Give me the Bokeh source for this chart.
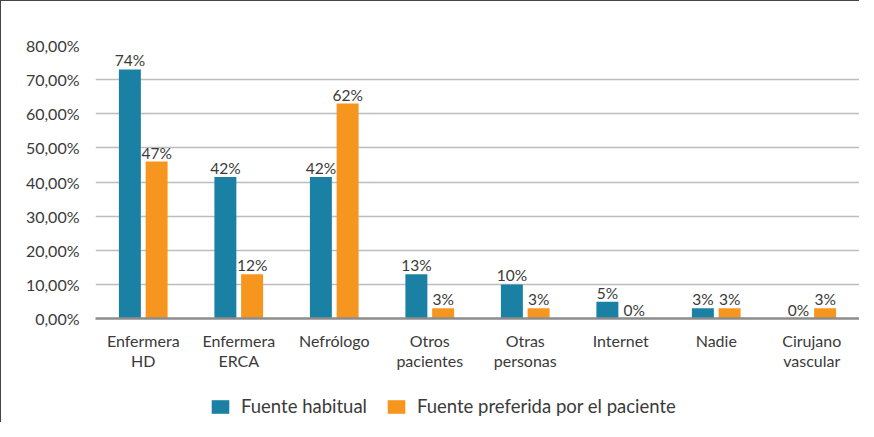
from bokeh.plotting import figure
from bokeh.layouts import column
from bokeh.models import (ColumnDataSource, FactorRange, CustomJSTickFormatter, FixedTicker,
                          Legend, LegendItem, LabelSet, CategoricalAxis)
from bokeh.core.properties import value
from bokeh.transform import dodge
from bokeh.embed import file_html
from bokeh.resources import INLINE

categories = ["Enfermera HD", "Enfermera ERCA", "Nefrólogo", "Otros pacientes",
              "Otras personas", "Internet", "Nadie", "Cirujano vascular"]
label_line1 = ["Enfermera", "Enfermera", "Nefrólogo", "Otros",
               "Otras", "Internet", "Nadie", "Cirujano"]
label_line2 = ["HD", "ERCA", " ", "pacientes", "personas", " ", " ", "vascular"]
habitual = [73, 41.5, 41.5, 13, 10, 4.9, 3, 0]
preferida = [46, 13, 63, 3, 3, 0, 3, 3]
habitual_labels = ["74%", "42%", "42%", "13%", "10%", "5%", "3%", "0%"]
preferida_labels = ["47%", "12%", "62%", "3%", "3%", "0%", "3%", "3%"]
y_ticks = [0, 10, 20, 30, 40, 50, 60, 70, 80]
series_names = ["Fuente habitual", "Fuente preferida por el paciente"]

BLUE = "#1a81a4"
ORANGE = "#f7961e"
TEXT = "#3a3a3a"
FONT = "Lato"

src = ColumnDataSource(dict(cat=categories, h=habitual, p=preferida,
                            hl=habitual_labels, pl=preferida_labels))

p = figure(frame_width=764, frame_height=273, x_range=FactorRange(*categories), y_range=(0, 80),
           output_backend="svg", toolbar_location=None, x_axis_location=None,
           min_border_left=94, min_border_right=0, min_border_top=44, min_border_bottom=0)
p.outline_line_color = None
p.background_fill_color = "white"

r1 = p.vbar(x=dodge("cat", -0.14, range=p.x_range), top="h", width=0.23, source=src,
            fill_color=BLUE, line_color=None)
r2 = p.vbar(x=dodge("cat", 0.14, range=p.x_range), top="p", width=0.23, source=src,
            fill_color=ORANGE, line_color=None)

for col, lab, off in (("h", "hl", -0.14), ("p", "pl", 0.14)):
    ls = LabelSet(x=dodge("cat", off, range=p.x_range), y=col, text=lab, source=src,
                  text_align="center", text_baseline="bottom", y_offset=0,
                  text_font=value(FONT), text_font_size="15.5px", text_color=TEXT)
    p.add_layout(ls)

p.yaxis.ticker = FixedTicker(ticks=y_ticks)
p.yaxis.formatter = CustomJSTickFormatter(code="return tick.toFixed(2).replace('.', ',') + '%';")
p.yaxis.axis_line_color = None
p.yaxis.major_tick_line_color = None
p.yaxis.minor_tick_line_color = None
p.yaxis.major_label_text_font = FONT
p.yaxis.major_label_text_font_size = "16px"
p.yaxis.major_label_text_color = TEXT
p.yaxis.major_label_standoff = 10

fmt1 = CustomJSTickFormatter(args=dict(keys=categories, names=label_line1),
                             code="const i = keys.indexOf(tick); return i >= 0 ? names[i] : tick;")
fmt2 = CustomJSTickFormatter(args=dict(keys=categories, names=label_line2),
                             code="const i = keys.indexOf(tick); return i >= 0 ? names[i] : tick;")

ax1 = CategoricalAxis(axis_line_color="#8c8c8c", axis_line_width=2.5, formatter=fmt1,
                      major_tick_line_color=None, minor_tick_line_color=None,
                      major_label_text_font=FONT, major_label_text_font_size="16px",
                      major_label_text_color=TEXT, major_label_standoff=6)
ax2 = CategoricalAxis(axis_line_color=None, formatter=fmt2,
                      major_tick_line_color=None, minor_tick_line_color=None,
                      major_label_text_font=FONT, major_label_text_font_size="16px",
                      major_label_text_color=TEXT, major_label_standoff=-8)
p.add_layout(ax1, "below")
p.add_layout(ax2, "below")

p.xgrid.grid_line_color = None
p.ygrid.grid_line_color = "#bdbdbd"
p.ygrid.grid_line_width = 1.5

# legend strip
p2 = figure(width=858, height=50, output_backend="svg", toolbar_location=None,
            x_range=(0, 1), y_range=(0, 1), min_border=0,
            x_axis_location=None, y_axis_location=None)
p2.grid.grid_line_color = None
p2.outline_line_color = None
d1 = p2.vbar(x=[5], top=[1], width=0.1, fill_color=BLUE, line_color=None)
d2 = p2.vbar(x=[5], top=[1], width=0.1, fill_color=ORANGE, line_color=None)
legend = Legend(items=[LegendItem(label=series_names[0], renderers=[d1]),
                       LegendItem(label=series_names[1], renderers=[d2])],
                orientation="horizontal", location=(114, 5),
                label_text_font=FONT, label_text_font_size="18.5px", label_text_color=TEXT,
                glyph_width=22, glyph_height=17, spacing=18, label_standoff=10,
                border_line_color=None, background_fill_alpha=0)
p2.add_layout(legend, "center")

layout = column(p, p2, spacing=0)
layout.styles = {"border-left": "1.5px solid #444444", "border-top": "1.5px solid #444444"}

open("out.html", "w").write(file_html(layout, INLINE))
